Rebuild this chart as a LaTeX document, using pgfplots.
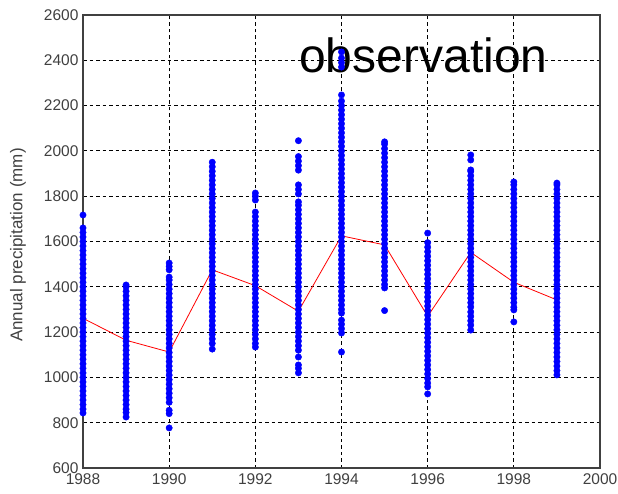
\documentclass[border=0pt]{standalone}
\usepackage{pgfplots}
\pgfplotsset{compat=1.18}
\usepackage{fontspec}
\setmainfont{Liberation Sans}
\definecolor{tickgray}{RGB}{64,64,64}
\definecolor{mblue}{RGB}{0,0,255}
\begin{document}
\begin{tikzpicture}
\path[use as bounding box] (0,0) rectangle (618pt,493pt);
\begin{axis}[
  at={(83pt,25pt)}, anchor=south west,
  scale only axis, width=517pt, height=453pt,
  xmin=1988, xmax=2000, ymin=600, ymax=2600,
  xtick={1988,1990,...,2000}, ytick={600,800,...,2600},
  /pgf/number format/assume math mode=true,
  /pgf/number format/1000 sep={},
  ticklabel style={font=\fontsize{15.5}{15.5}\selectfont, text=tickgray},
  xticklabel style={yshift=-5pt, inner ysep=0pt},
  yticklabel style={xshift=-1pt, inner ysep=0pt},
  major tick length=0pt,
  grid=major,
  major grid style={black, line width=1pt, dash pattern=on 3.5pt off 3pt},
  axis line style={tickgray, line width=1.4pt},
  ylabel={Annual precipitation (mm)},
  ylabel style={at={(axis description cs:-0.1257,0.492)}, anchor=center, font=\fontsize{17}{17}\selectfont, text=tickgray},
  clip=false,
]
\addplot[only marks, mark=*, mark size=3.2pt, mblue, mark options={draw=mblue, fill=mblue}] coordinates {
(1988,843) (1988,860) (1988,880) (1988,900) (1988,920) (1988,940) (1988,960) (1988,980) (1988,1000) (1988,1020) (1988,1040) (1988,1060) (1988,1080) (1988,1100) (1988,1120) (1988,1140) (1988,1160) (1988,1180) (1988,1200) (1988,1220) (1988,1240) (1988,1260) (1988,1280) (1988,1300) (1988,1320) (1988,1340) (1988,1360) (1988,1380) (1988,1400) (1988,1420) (1988,1440) (1988,1460) (1988,1480) (1988,1500) (1988,1520) (1988,1540) (1988,1560) (1988,1580) (1988,1600) (1988,1620) (1988,1640) (1988,1660) (1988,1717)
(1989,825) (1989,845) (1989,860) (1989,880) (1989,900) (1989,920) (1989,940) (1989,960) (1989,980) (1989,1000) (1989,1020) (1989,1040) (1989,1060) (1989,1080) (1989,1100) (1989,1120) (1989,1140) (1989,1160) (1989,1180) (1989,1200) (1989,1220) (1989,1240) (1989,1260) (1989,1280) (1989,1300) (1989,1320) (1989,1340) (1989,1360) (1989,1380) (1989,1400) (1989,1408)
(1990,777) (1990,840) (1990,855) (1990,890) (1990,910) (1990,930) (1990,950) (1990,970) (1990,990) (1990,1010) (1990,1030) (1990,1050) (1990,1070) (1990,1090) (1990,1110) (1990,1130) (1990,1150) (1990,1170) (1990,1190) (1990,1210) (1990,1230) (1990,1250) (1990,1270) (1990,1290) (1990,1310) (1990,1330) (1990,1350) (1990,1370) (1990,1390) (1990,1410) (1990,1430) (1990,1443) (1990,1475) (1990,1490) (1990,1505)
(1991,1125) (1991,1150) (1991,1170) (1991,1190) (1991,1210) (1991,1230) (1991,1250) (1991,1270) (1991,1290) (1991,1310) (1991,1330) (1991,1350) (1991,1370) (1991,1390) (1991,1410) (1991,1430) (1991,1450) (1991,1470) (1991,1490) (1991,1510) (1991,1530) (1991,1550) (1991,1570) (1991,1590) (1991,1610) (1991,1630) (1991,1650) (1991,1670) (1991,1690) (1991,1710) (1991,1730) (1991,1750) (1991,1770) (1991,1790) (1991,1810) (1991,1830) (1991,1850) (1991,1870) (1991,1890) (1991,1910) (1991,1930) (1991,1950)
(1992,1134) (1992,1150) (1992,1170) (1992,1190) (1992,1210) (1992,1230) (1992,1250) (1992,1270) (1992,1290) (1992,1310) (1992,1330) (1992,1350) (1992,1370) (1992,1390) (1992,1410) (1992,1430) (1992,1450) (1992,1470) (1992,1490) (1992,1510) (1992,1530) (1992,1550) (1992,1570) (1992,1590) (1992,1610) (1992,1630) (1992,1650) (1992,1670) (1992,1690) (1992,1710) (1992,1730) (1992,1783) (1992,1800) (1992,1814)
(1993,1020) (1993,1040) (1993,1055) (1993,1090) (1993,1120) (1993,1140) (1993,1160) (1993,1180) (1993,1200) (1993,1220) (1993,1240) (1993,1260) (1993,1280) (1993,1300) (1993,1320) (1993,1340) (1993,1360) (1993,1380) (1993,1400) (1993,1420) (1993,1440) (1993,1460) (1993,1480) (1993,1500) (1993,1520) (1993,1540) (1993,1560) (1993,1580) (1993,1600) (1993,1620) (1993,1640) (1993,1660) (1993,1680) (1993,1700) (1993,1720) (1993,1740) (1993,1760) (1993,1775) (1993,1810) (1993,1830) (1993,1850) (1993,1915) (1993,1935) (1993,1955) (1993,1975) (1993,2045)
(1994,1112) (1994,1196) (1994,1215) (1994,1235) (1994,1253) (1994,1284) (1994,1300) (1994,1320) (1994,1340) (1994,1360) (1994,1380) (1994,1400) (1994,1420) (1994,1440) (1994,1460) (1994,1480) (1994,1500) (1994,1520) (1994,1540) (1994,1560) (1994,1580) (1994,1600) (1994,1620) (1994,1640) (1994,1660) (1994,1680) (1994,1700) (1994,1720) (1994,1740) (1994,1760) (1994,1780) (1994,1800) (1994,1820) (1994,1840) (1994,1860) (1994,1880) (1994,1900) (1994,1920) (1994,1940) (1994,1960) (1994,1980) (1994,2000) (1994,2020) (1994,2040) (1994,2060) (1994,2080) (1994,2100) (1994,2120) (1994,2140) (1994,2160) (1994,2180) (1994,2200) (1994,2220) (1994,2247) (1994,2370) (1994,2390) (1994,2410) (1994,2437)
(1995,1295) (1995,1395) (1995,1410) (1995,1430) (1995,1450) (1995,1470) (1995,1490) (1995,1510) (1995,1530) (1995,1550) (1995,1570) (1995,1590) (1995,1610) (1995,1630) (1995,1650) (1995,1670) (1995,1690) (1995,1710) (1995,1730) (1995,1750) (1995,1770) (1995,1790) (1995,1810) (1995,1830) (1995,1850) (1995,1870) (1995,1890) (1995,1910) (1995,1930) (1995,1950) (1995,1970) (1995,1990) (1995,2010) (1995,2030) (1995,2040)
(1996,927) (1996,958) (1996,975) (1996,995) (1996,1015) (1996,1035) (1996,1055) (1996,1075) (1996,1095) (1996,1115) (1996,1135) (1996,1155) (1996,1175) (1996,1195) (1996,1215) (1996,1235) (1996,1255) (1996,1275) (1996,1295) (1996,1315) (1996,1335) (1996,1355) (1996,1375) (1996,1395) (1996,1415) (1996,1435) (1996,1455) (1996,1475) (1996,1495) (1996,1515) (1996,1535) (1996,1555) (1996,1575) (1996,1595) (1996,1637)
(1997,1209) (1997,1231) (1997,1250) (1997,1270) (1997,1289) (1997,1311) (1997,1330) (1997,1350) (1997,1370) (1997,1390) (1997,1410) (1997,1430) (1997,1450) (1997,1470) (1997,1490) (1997,1510) (1997,1530) (1997,1550) (1997,1570) (1997,1590) (1997,1610) (1997,1630) (1997,1650) (1997,1670) (1997,1690) (1997,1710) (1997,1730) (1997,1750) (1997,1770) (1997,1790) (1997,1810) (1997,1830) (1997,1850) (1997,1870) (1997,1890) (1997,1910) (1997,1916) (1997,1960) (1997,1982)
(1998,1245) (1998,1298) (1998,1310) (1998,1330) (1998,1350) (1998,1370) (1998,1390) (1998,1410) (1998,1430) (1998,1450) (1998,1470) (1998,1490) (1998,1510) (1998,1530) (1998,1550) (1998,1570) (1998,1590) (1998,1610) (1998,1630) (1998,1650) (1998,1670) (1998,1690) (1998,1710) (1998,1730) (1998,1750) (1998,1770) (1998,1790) (1998,1810) (1998,1830) (1998,1850) (1998,1863)
(1999,1011) (1999,1030) (1999,1050) (1999,1070) (1999,1090) (1999,1110) (1999,1130) (1999,1150) (1999,1170) (1999,1190) (1999,1210) (1999,1230) (1999,1250) (1999,1270) (1999,1290) (1999,1310) (1999,1330) (1999,1350) (1999,1370) (1999,1390) (1999,1410) (1999,1430) (1999,1450) (1999,1470) (1999,1490) (1999,1510) (1999,1530) (1999,1550) (1999,1570) (1999,1590) (1999,1610) (1999,1630) (1999,1650) (1999,1670) (1999,1690) (1999,1710) (1999,1730) (1999,1750) (1999,1770) (1999,1790) (1999,1810) (1999,1830) (1999,1850) (1999,1858)
};
\addplot[red, line width=0.8pt, mark=none] coordinates {
(1988,1261) (1989,1164) (1990,1112) (1991,1475) (1992,1405) (1993,1292) (1994,1625) (1995,1585) (1996,1270) (1997,1552) (1998,1420) (1999,1342)
};
\node[anchor=base, font=\fontsize{48}{48}\selectfont, inner sep=0pt] at (axis cs:1995.9,2348) {observation};
\end{axis}
\end{tikzpicture}
\end{document}
